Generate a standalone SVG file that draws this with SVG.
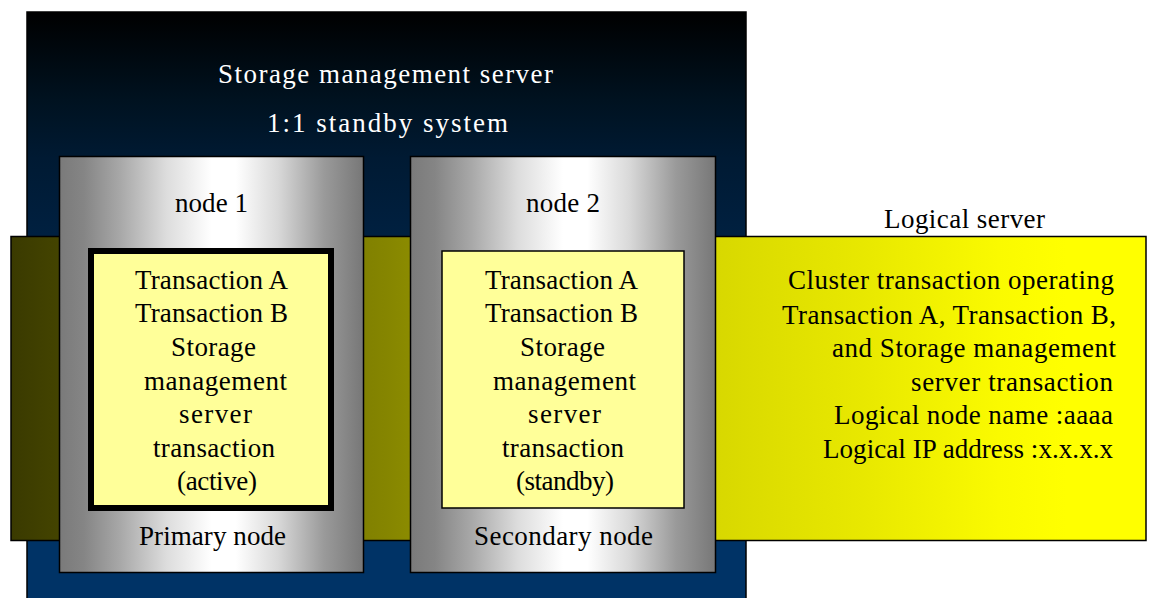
<svg xmlns="http://www.w3.org/2000/svg" width="1151" height="598" viewBox="0 0 1151 598">
<style>
text{font-family:"Liberation Serif","Noto Sans CJK JP",serif;font-size:27px;fill:#000;stroke:none}
.w{fill:#fff}
.box{stroke:#000;stroke-width:1.500}
.node{fill:url(#metal)}
.tx{fill:#ffff99}
</style>
<defs>
<linearGradient id="navy" gradientUnits="userSpaceOnUse" x1="0" y1="12" x2="0" y2="598"><stop offset="0" stop-color="#000"/><stop offset=".15" stop-color="#001220"/><stop offset=".25" stop-color="#001a33"/><stop offset=".38" stop-color="#002040"/><stop offset=".9" stop-color="#003366"/><stop offset="1" stop-color="#036"/></linearGradient>
<linearGradient id="yel" gradientUnits="userSpaceOnUse" x1="11" y1="0" x2="1146" y2="0"><stop offset="0" stop-color="#3a3a00"/><stop offset=".33" stop-color="#858500"/><stop offset=".62" stop-color="#d8d800"/><stop offset=".75" stop-color="#e8e800"/><stop offset=".87" stop-color="#fafa00"/><stop offset=".93" stop-color="#ffff00"/><stop offset="1" stop-color="#ffff00"/></linearGradient>
<linearGradient id="metal"><stop offset="0" stop-color="#7a7a7a"/><stop offset=".08" stop-color="#858585"/><stop offset=".2" stop-color="#a8a8a8"/><stop offset=".35" stop-color="#dcdcdc"/><stop offset=".5" stop-color="#fff"/><stop offset=".58" stop-color="#fff"/><stop offset=".72" stop-color="#d8d8d8"/><stop offset=".87" stop-color="#9a9a9a"/><stop offset="1" stop-color="#777"/></linearGradient>
</defs>
<g id="server">
<rect class="box" x="27" y="12" width="719" height="600" fill="url(#navy)"/>
<text class="w" x="218" y="83" textLength="335">Storage management server</text>
<text class="w" x="267" y="132" textLength="241">1:1 standby system</text>
</g>
<g id="logical-server">
<rect class="box" x="11" y="236.500" width="1135" height="304" fill="url(#yel)"/>
<text x="884" y="228" textLength="161">Logical server</text>
<text x="788" y="289" textLength="326">Cluster transaction operating</text>
<text x="782" y="324" textLength="334">Transaction A, Transaction B,</text>
<text x="832" y="357" textLength="284">and Storage management</text>
<text x="911" y="391" textLength="202">server transaction</text>
<text x="834" y="424" textLength="279">Logical node name :aaaa</text>
<text x="823" y="458" textLength="290">Logical IP address :x.x.x.x</text>
</g>
<g id="node1">
<rect class="box node" x="59.500" y="156.500" width="304" height="416"/>
<text x="175" y="212" textLength="73">node 1</text>
<rect class="tx" x="91" y="251" width="240" height="257" stroke="#000" stroke-width="6"/>
<text x="135" y="289" textLength="153">Transaction A</text>
<text x="135" y="322" textLength="153">Transaction B</text>
<text x="171" y="356" textLength="85">Storage</text>
<text x="144" y="390" textLength="143">management</text>
<text x="179" y="423" textLength="73">server</text>
<text x="153" y="457" textLength="122">transaction</text>
<text x="177" y="490" textLength="80">(active)</text>
<text x="139" y="545" textLength="147">Primary node</text>
</g>
<g id="node2">
<rect class="box node" x="410.500" y="156.500" width="305" height="416"/>
<text x="526" y="212" textLength="74">node 2</text>
<rect class="tx box" x="442" y="251" width="242" height="257"/>
<text x="485" y="289" textLength="153">Transaction A</text>
<text x="485" y="322" textLength="153">Transaction B</text>
<text x="520" y="356" textLength="85">Storage</text>
<text x="493" y="390" textLength="143">management</text>
<text x="528" y="423" textLength="73">server</text>
<text x="502" y="457" textLength="122">transaction</text>
<text x="516" y="490" textLength="98">(standby)</text>
<text x="474" y="545" textLength="179">Secondary node</text>
</g>
</svg>
